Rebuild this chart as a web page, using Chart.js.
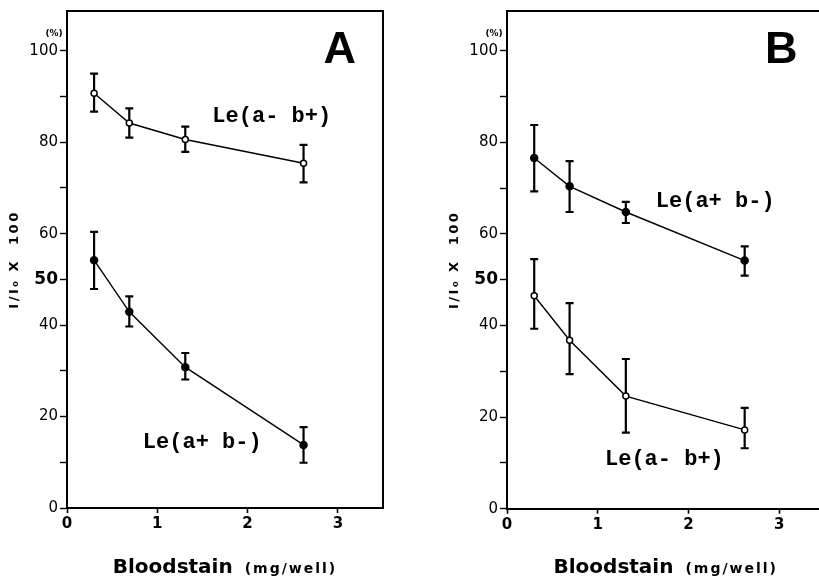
<!DOCTYPE html>
<html>
<head>
<meta charset="utf-8">
<script src="https://cdn.jsdelivr.net/npm/chart.js@4.4.1/dist/chart.umd.min.js"></script>
<style>
  html, body { margin: 0; padding: 0; background: #fff; width: 819px; height: 586px; overflow: hidden; }
  .panel { position: absolute; top: 0; width: 410px; height: 586px; }
  #panelA { left: 0; }
  #panelB { left: 440px; }
</style>
</head>
<body>
<div class="panel" id="panelA"><canvas id="chartA" width="410" height="586"></canvas></div>
<div class="panel" id="panelB"><canvas id="chartB" width="410" height="586"></canvas></div>
<script>
// bloodstain amount (mg/well)
const doses = [0.3, 0.69, 1.31, 2.62];

// Panel A
const aLeNegPos = [90.7, 84.2, 80.6, 75.4];      // Le(a- b+), open circles
const aLeNegPosLow = [86.7, 81.0, 77.9, 71.2];
const aLeNegPosHigh = [95.0, 87.4, 83.4, 79.4];
const aLePosNeg = [54.2, 42.9, 30.8, 13.8];      // Le(a+ b-), filled
const aLePosNegLow = [47.9, 39.7, 28.1, 9.9];
const aLePosNegHigh = [60.4, 46.3, 33.9, 17.7];

// Panel B
const bLePosNeg = [76.6, 70.4, 64.8, 54.2];      // Le(a+ b-), filled
const bLePosNegLow = [69.3, 64.8, 62.4, 50.9];
const bLePosNegHigh = [83.8, 75.9, 67.0, 57.3];
const bLeNegPos = [46.5, 36.8, 24.6, 17.2];      // Le(a- b+), open circles
const bLeNegPosLow = [39.3, 29.4, 16.6, 13.2];
const bLeNegPosHigh = [54.5, 44.9, 32.7, 22.0];

const xTicks = [0, 1, 2, 3];
const yTicks = [0, 10, 20, 30, 40, 50, 60, 70, 80, 90, 100];
const yLabeled = [0, 20, 40, 50, 60, 80, 100];

const toPoints = vals => vals.map((v, i) => ({ x: doses[i], y: v }));

function series(vals, low, high, open) {
  return {
    data: toPoints(vals),
    errLow: low,
    errHigh: high,
    showLine: true,
    borderColor: '#000',
    borderWidth: 1.4,
    pointRadius: open ? 3 : 3.5,
    pointBackgroundColor: open ? '#fff' : '#000',
    pointBorderColor: '#000',
    pointBorderWidth: 1.5,
    tension: 0
  };
}

const decorations = {
  id: 'decorations',
  beforeDatasetsDraw(chart) {
    // error bars
    const ctx = chart.ctx, y = chart.scales.y;
    ctx.save();
    ctx.strokeStyle = '#000';
    ctx.lineWidth = 2.2;
    chart.data.datasets.forEach((ds, i) => {
      chart.getDatasetMeta(i).data.forEach((pt, j) => {
        const top = y.getPixelForValue(ds.errHigh[j]);
        const bot = y.getPixelForValue(ds.errLow[j]);
        ctx.beginPath();
        ctx.moveTo(pt.x, top); ctx.lineTo(pt.x, bot);
        ctx.moveTo(pt.x - 4, top); ctx.lineTo(pt.x + 4, top);
        ctx.moveTo(pt.x - 4, bot); ctx.lineTo(pt.x + 4, bot);
        ctx.stroke();
      });
    });
    ctx.restore();
  },
  afterDraw(chart, args, opts) {
    const ctx = chart.ctx, area = chart.chartArea;
    const x = chart.scales.x, y = chart.scales.y;
    ctx.save();
    // top and right frame
    ctx.strokeStyle = '#000';
    ctx.lineWidth = 2;
    ctx.beginPath();
    ctx.moveTo(area.left, area.top);
    ctx.lineTo(area.right, area.top);
    ctx.lineTo(area.right, area.bottom);
    ctx.stroke();

    ctx.fillStyle = '#000';
    // series labels
    ctx.font = 'bold 22px "Liberation Mono", monospace';
    ctx.textAlign = 'left';
    ctx.textBaseline = 'alphabetic';
    opts.labels.forEach(l => {
      ctx.fillText(l.text, x.getPixelForValue(l.x), y.getPixelForValue(l.y));
    });

    // panel letter
    ctx.font = 'bold 45px "Liberation Sans", Arial, sans-serif';
    ctx.textAlign = 'right';
    ctx.fillText(opts.letter, area.right - 27, area.top + 52);

    // (%) unit over the y axis
    ctx.font = 'bold 9px "DejaVu Sans", sans-serif';
    ctx.textAlign = 'center';
    ctx.textBaseline = 'middle';
    ctx.fillText('(%)', area.left - 13, y.getPixelForValue(100) - 17);

    // y title
    ctx.save();
    ctx.translate(15, (area.top + area.bottom) / 2);
    ctx.rotate(-Math.PI / 2);
    ctx.font = 'bold 13px "DejaVu Sans", sans-serif';
    ctx.letterSpacing = '2.5px';
    ctx.fillText('I/I\u2080 X  100', 0, 0);
    ctx.restore();

    // x title
    ctx.textBaseline = 'alphabetic';
    ctx.textAlign = 'left';
    ctx.font = 'bold 20px "DejaVu Sans", sans-serif';
    ctx.letterSpacing = '0px';
    const w1 = ctx.measureText('Bloodstain').width;
    ctx.font = 'bold 14px "DejaVu Sans", sans-serif';
    ctx.letterSpacing = '2px';
    const w2 = ctx.measureText('(mg/well)').width;
    const gap = 12;
    const start = (area.left + area.right) / 2 - (w1 + gap + w2) / 2;
    ctx.letterSpacing = '0px';
    ctx.font = 'bold 20px "DejaVu Sans", sans-serif';
    ctx.fillText('Bloodstain', start, 573);
    ctx.letterSpacing = '2px';
    ctx.font = 'bold 14px "DejaVu Sans", sans-serif';
    ctx.fillText('(mg/well)', start + w1 + gap, 573);
    ctx.restore();
  }
};

function makeChart(id, datasets, padding, xHeight, letter, labels) {
  return new Chart(document.getElementById(id), {
    type: 'scatter',
    data: { datasets },
    plugins: [decorations],
    options: {
      responsive: false,
      animation: false,
      devicePixelRatio: 1,
      layout: { padding },
      plugins: {
        legend: { display: false },
        tooltip: { enabled: false },
        decorations: { letter, labels }
      },
      scales: {
        x: {
          type: 'linear',
          min: 0,
          max: 3.5,
          afterBuildTicks: s => { s.ticks = xTicks.map(v => ({ value: v })); },
          afterFit: s => { s.height = xHeight; },
          grid: { drawOnChartArea: false, drawTicks: true, tickLength: 5, tickColor: '#000', tickWidth: 1.6 },
          border: { display: true, color: '#000', width: 2 },
          ticks: {
            color: '#000',
            padding: 2,
            maxRotation: 0,
            font: { family: 'DejaVu Sans', size: 15, weight: 'bold' }
          }
        },
        y: {
          type: 'linear',
          min: 0,
          max: 108.7,
          afterBuildTicks: s => { s.ticks = yTicks.map(v => ({ value: v })); },
          afterFit: s => { s.width = 67; },
          grid: { drawOnChartArea: false, drawTicks: true, tickLength: 7, tickColor: '#000', tickWidth: 1.4 },
          border: { display: true, color: '#000', width: 2 },
          ticks: {
            color: '#000',
            padding: 2,
            callback: v => yLabeled.includes(v) ? String(v) : '',
            font: c => (c.tick && c.tick.value === 50)
              ? { family: 'DejaVu Sans', size: 17, weight: 'bold' }
              : { family: 'DejaVu Sans', size: 15, weight: 'normal' }
          }
        }
      }
    }
  });
}

makeChart('chartA', [
  series(aLeNegPos, aLeNegPosLow, aLeNegPosHigh, true),
  series(aLePosNeg, aLePosNegLow, aLePosNegHigh, false)
], { top: 9, right: 27, left: 0, bottom: 0 }, 78, 'A', [
  { text: 'Le(a- b+)', x: 1.61, y: 84.5 },
  { text: 'Le(a+ b-)', x: 0.84, y: 13.1 }
]);

makeChart('chartB', [
  series(bLePosNeg, bLePosNegLow, bLePosNegHigh, false),
  series(bLeNegPos, bLeNegPosLow, bLeNegPosHigh, true)
], { top: 10, right: 25.5, left: 0, bottom: 0 }, 77.3, 'B', [
  { text: 'Le(a+ b-)', x: 1.64, y: 66.0 },
  { text: 'Le(a- b+)', x: 1.08, y: 9.5 }
]);
</script>
</body>
</html>
